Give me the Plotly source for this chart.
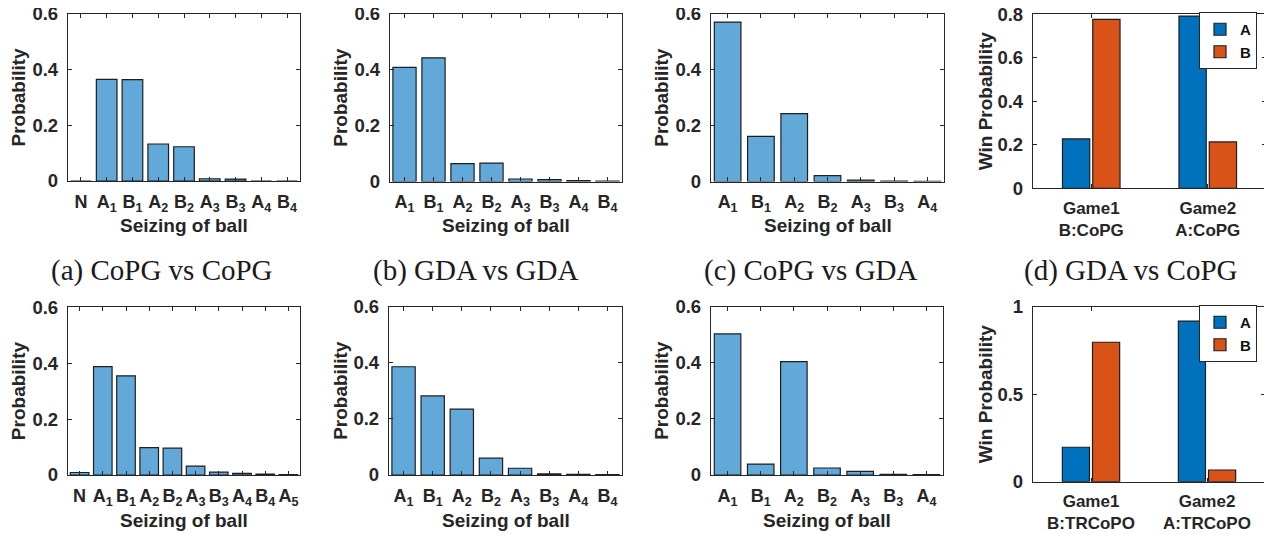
import plotly.graph_objects as go

W, H = 1272, 536          # browser window
OFF = 8                   # default body margin of the html page
FW, FH = W - OFF, H - OFF # figure size

# ---------------- data ----------------
cats_a = ["N", "A1", "B1", "A2", "B2", "A3", "B3", "A4", "B4"]
vals_a = [0.0, 0.365, 0.364, 0.133, 0.123, 0.008, 0.007, 0.0, 0.0]

cats_b = ["A1", "B1", "A2", "B2", "A3", "B3", "A4", "B4"]
vals_b = [0.409, 0.443, 0.064, 0.066, 0.009, 0.007, 0.003, 0.001]

cats_c = ["A1", "B1", "A2", "B2", "A3", "B3", "A4"]
vals_c = [0.571, 0.162, 0.243, 0.021, 0.005, 0.001, 0.0005]

games_d = ["Game1<br>B:CoPG", "Game2<br>A:CoPG"]
win_A_d = [0.227, 0.792]
win_B_d = [0.777, 0.213]

cats_e = ["N", "A1", "B1", "A2", "B2", "A3", "B3", "A4", "B4", "A5"]
vals_e = [0.009, 0.388, 0.355, 0.098, 0.096, 0.032, 0.010, 0.006, 0.003, 0.001]

cats_f = ["A1", "B1", "A2", "B2", "A3", "B3", "A4", "B4"]
vals_f = [0.386, 0.282, 0.235, 0.060, 0.024, 0.004, 0.002, 0.001]

cats_g = ["A1", "B1", "A2", "B2", "A3", "B3", "A4"]
vals_g = [0.503, 0.039, 0.404, 0.025, 0.013, 0.002, 0.001]

games_h = ["Game1<br>B:TRCoPO", "Game2<br>A:TRCoPO"]
win_A_h = [0.197, 0.918]
win_B_h = [0.797, 0.067]

captions = ["(a) CoPG vs CoPG", "(b) GDA vs GDA", "(c) CoPG vs GDA", "(d) GDA vs CoPG"]
ticks_p = [0, 0.2, 0.4, 0.6]
ticks_d = [0, 0.2, 0.4, 0.6, 0.8]
ticks_h = [0, 0.5, 1]

# ---------------- style ----------------
SANS = "Liberation Sans"
SERIF = "Liberation Serif"
AX = "#262626"
LIGHT = "#62A9DA"
BLUE = "#0072BD"
ORANGE = "#D95319"
EDGE = "#1e1e1e"


def px(x):
    return (x - OFF) / FW


def py(y):
    return 1 - (y - OFF) / FH


def sub(lbl):
    if len(lbl) == 2 and lbl[1].isdigit():
        return f"{lbl[0]}<sub>{lbl[1]}</sub>"
    return lbl


# panel boxes in window pixels: (left, right, top, bottom)
boxes = [
    (68, 300, 14, 181),
    (390, 622, 14, 181.5),
    (711, 944, 14, 181.5),
    (1033, 1266, 14.3, 188.3),
    (68, 300, 307.3, 475),
    (389, 622, 306.7, 475),
    (711, 943, 306.7, 475),
    (1033, 1265, 306.7, 481.7),
]

fig = go.Figure()

single = [(cats_a, vals_a, 1), (cats_b, vals_b, 2), (cats_c, vals_c, 3),
          (cats_e, vals_e, 5), (cats_f, vals_f, 6), (cats_g, vals_g, 7)]
for cats, vals, i in single:
    fig.add_trace(go.Bar(
        x=[sub(c) for c in cats], y=vals, width=0.8,
        marker=dict(color=LIGHT, line=dict(color=EDGE, width=1.2)),
        xaxis=f"x{i}", yaxis=f"y{i}", showlegend=False))

for games, wa, wb, i, lg in [(games_d, win_A_d, win_B_d, 4, "legend"),
                              (games_h, win_A_h, win_B_h, 8, "legend2")]:
    fig.add_trace(go.Bar(x=games, y=wa, name="A",
                         marker=dict(color=BLUE, line=dict(color=EDGE, width=1.2)),
                         xaxis=f"x{i}", yaxis=f"y{i}", legend=lg))
    fig.add_trace(go.Bar(x=games, y=wb, name="B",
                         marker=dict(color=ORANGE, line=dict(color=EDGE, width=1.2)),
                         xaxis=f"x{i}", yaxis=f"y{i}", legend=lg))

ncats = {1: len(cats_a), 2: len(cats_b), 3: len(cats_c), 4: 2,
         5: len(cats_e), 6: len(cats_f), 7: len(cats_g), 8: 2}
yranges = {1: 0.6, 2: 0.6, 3: 0.6, 4: 0.8, 5: 0.6, 6: 0.6, 7: 0.6, 8: 1.0}
yticks = {1: ticks_p, 2: ticks_p, 3: ticks_p, 4: ticks_d,
          5: ticks_p, 6: ticks_p, 7: ticks_p, 8: ticks_h}

layout = {}
for i, (l, r, t, b) in enumerate(boxes, start=1):
    common = dict(showline=True, mirror="ticks", linecolor=AX, linewidth=1.3,
                  ticks="inside", ticklen=4, tickwidth=1.1, tickcolor=AX,
                  showgrid=False, zeroline=False, fixedrange=True, automargin=False,
                  ticklabeloverflow="allow")
    xfs = 17 if i in (4, 8) else 18
    layout[f"xaxis{i}"] = dict(common, domain=[px(l), px(r)], anchor=f"y{i}",
                               range=[-0.5, ncats[i] - 0.5], type="category",
                               ticklabelstandoff=4,
                               tickfont=dict(family=SANS, size=xfs, color=AX, weight="bold"))
    layout[f"yaxis{i}"] = dict(common, domain=[py(b), py(t)], anchor=f"x{i}",
                               range=[0, yranges[i]], tickmode="array",
                               tickvals=yticks[i], ticklabelstandoff=5,
                               tickfont=dict(family=SANS, size=18.5, color=AX, weight="bold"))

annotations = []
for i, (l, r, t, b) in enumerate(boxes, start=1):
    row_top = i <= 4
    ylab = "Win Probability" if i in (4, 8) else "Probability"
    ylx = {1: 18, 2: 341, 3: 662, 4: 985, 5: 18, 6: 341, 7: 662, 8: 985}[i]
    annotations.append(dict(text=ylab, textangle=-90, x=px(ylx), y=py((t + b) / 2),
                            xref="paper", yref="paper", showarrow=False,
                            xanchor="center", yanchor="middle",
                            font=dict(family=SANS, size=19, color=AX, weight="bold")))
    if i not in (4, 8):
        xly = 226 if row_top else 520
        annotations.append(dict(text="Seizing of ball", x=px((l + r) / 2), y=py(xly),
                                xref="paper", yref="paper", showarrow=False,
                                xanchor="center", yanchor="middle",
                                font=dict(family=SANS, size=19, color=AX, weight="bold")))

cap_x = [162, 476, 811, 1131]
for cx, txt in zip(cap_x, captions):
    annotations.append(dict(text=txt, x=px(cx), y=py(270), xref="paper", yref="paper",
                            showarrow=False, xanchor="center", yanchor="middle",
                            font=dict(family=SERIF, size=29, color="#1a1a1a")))

leg_common = dict(xanchor="right", yanchor="top", bgcolor="white",
                  bordercolor=AX, borderwidth=1, tracegroupgap=0, itemwidth=30,
                  font=dict(family=SANS, size=15, color="#111111", weight="bold"))

fig.update_layout(
    width=FW, height=FH, margin=dict(l=0, r=0, t=0, b=0, autoexpand=False),
    paper_bgcolor="white", plot_bgcolor="white",
    barmode="group", bargap=0.48, bargroupgap=0.1,
    annotations=annotations,
    legend=dict(leg_common, x=px(1257), y=py(12)),
    legend2=dict(leg_common, x=px(1257), y=py(305)),
    **layout,
)

fig.write_html("out.html")
